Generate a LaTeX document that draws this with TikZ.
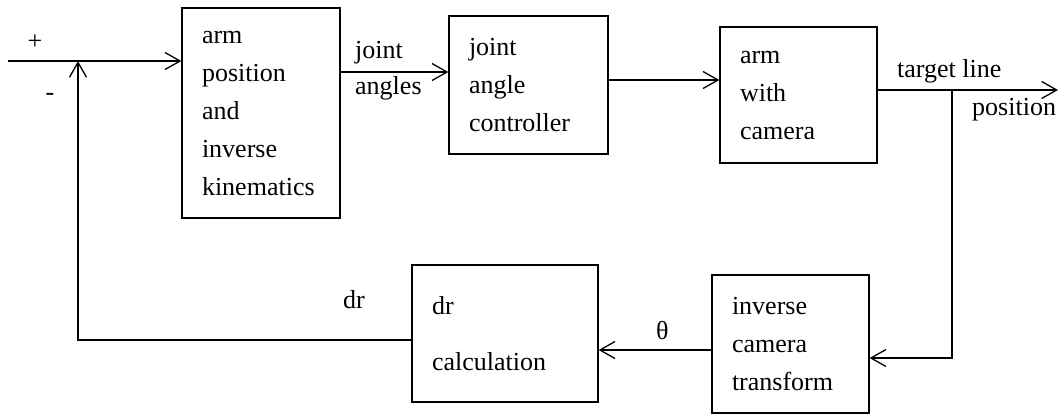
\documentclass[tikz,border=0pt]{standalone}
\usepackage{fontspec}
\setmainfont{Liberation Serif}
\usetikzlibrary{arrows.meta}
\begin{document}
\begin{tikzpicture}[x=1pt,y=-1pt,
  every node/.style={font=\fontsize{26}{38}\selectfont},
  blk/.style={draw, line width=1.3pt, align=left, inner xsep=20pt, inner ysep=0pt},
  lbl/.style={inner sep=0pt},
  conn/.style={line width=1.3pt},
  arr/.style={conn, -{Straight Barb[length=15pt,width=17pt,line width=1.3pt]}}]
\useasboundingbox (0,0) rectangle (1060,416);
% blocks
\node[blk, text width=118pt, minimum height=210pt] (b1) at (261,113) {arm\\position\\and\\inverse\\kinematics};
\node[blk, text width=119pt, minimum height=138pt] (b2) at (528.5,85) {joint\\angle\\controller};
\node[blk, text width=117pt, minimum height=136pt] (b3) at (798.5,95) {arm\\with\\camera};
\node[blk, text width=117pt, minimum height=138pt] (b4) at (790.5,344) {inverse\\camera\\transform};
\node[blk, text width=146pt, minimum height=137pt] (b5) at (505,333.5) {dr\\[18pt]calculation};
% helper coordinates
\coordinate (in) at (8,61);
\coordinate (sum) at (78,61);
\coordinate (y12) at (0,72);
\coordinate (y23) at (0,80);
\coordinate (tap) at (952,90);
\coordinate (out) at (1058,90);
\coordinate (dn) at (952,358);
\coordinate (y45) at (0,350);
\coordinate (fb) at (78,340);
% connectors
\draw[arr] (in) -- (in -| b1.west);
\draw[arr] (b1.east |- y12) -- (b2.west |- y12);
\draw[arr] (b2.east |- y23) -- (b3.west |- y23);
\draw[arr] (b3.east |- tap) -- (out);
\draw[arr] (tap) -- (dn) -- (dn -| b4.east);
\draw[arr] (b4.west |- y45) -- (b5.east |- y45);
\draw[arr] (b5.west |- fb) -- (fb) -- (sum);
% labels
\node[lbl] (plus) at (35,42) {+};
\node[lbl] (minus) at (50,97) {-};
\node[lbl, anchor=base west] (l1) at (355,58) {joint};
\node[lbl, anchor=base west] (l2) at (355,94) {angles};
\node[lbl, anchor=base west] (l3) at (897,77) {target line};
\node[lbl, anchor=base west] (l4) at (972,115) {position};
\node[lbl, anchor=base west] (l5) at (343,308) {dr};
\node[lbl, anchor=base west] (l6) at (656,339) {θ};
\end{tikzpicture}
\end{document}
